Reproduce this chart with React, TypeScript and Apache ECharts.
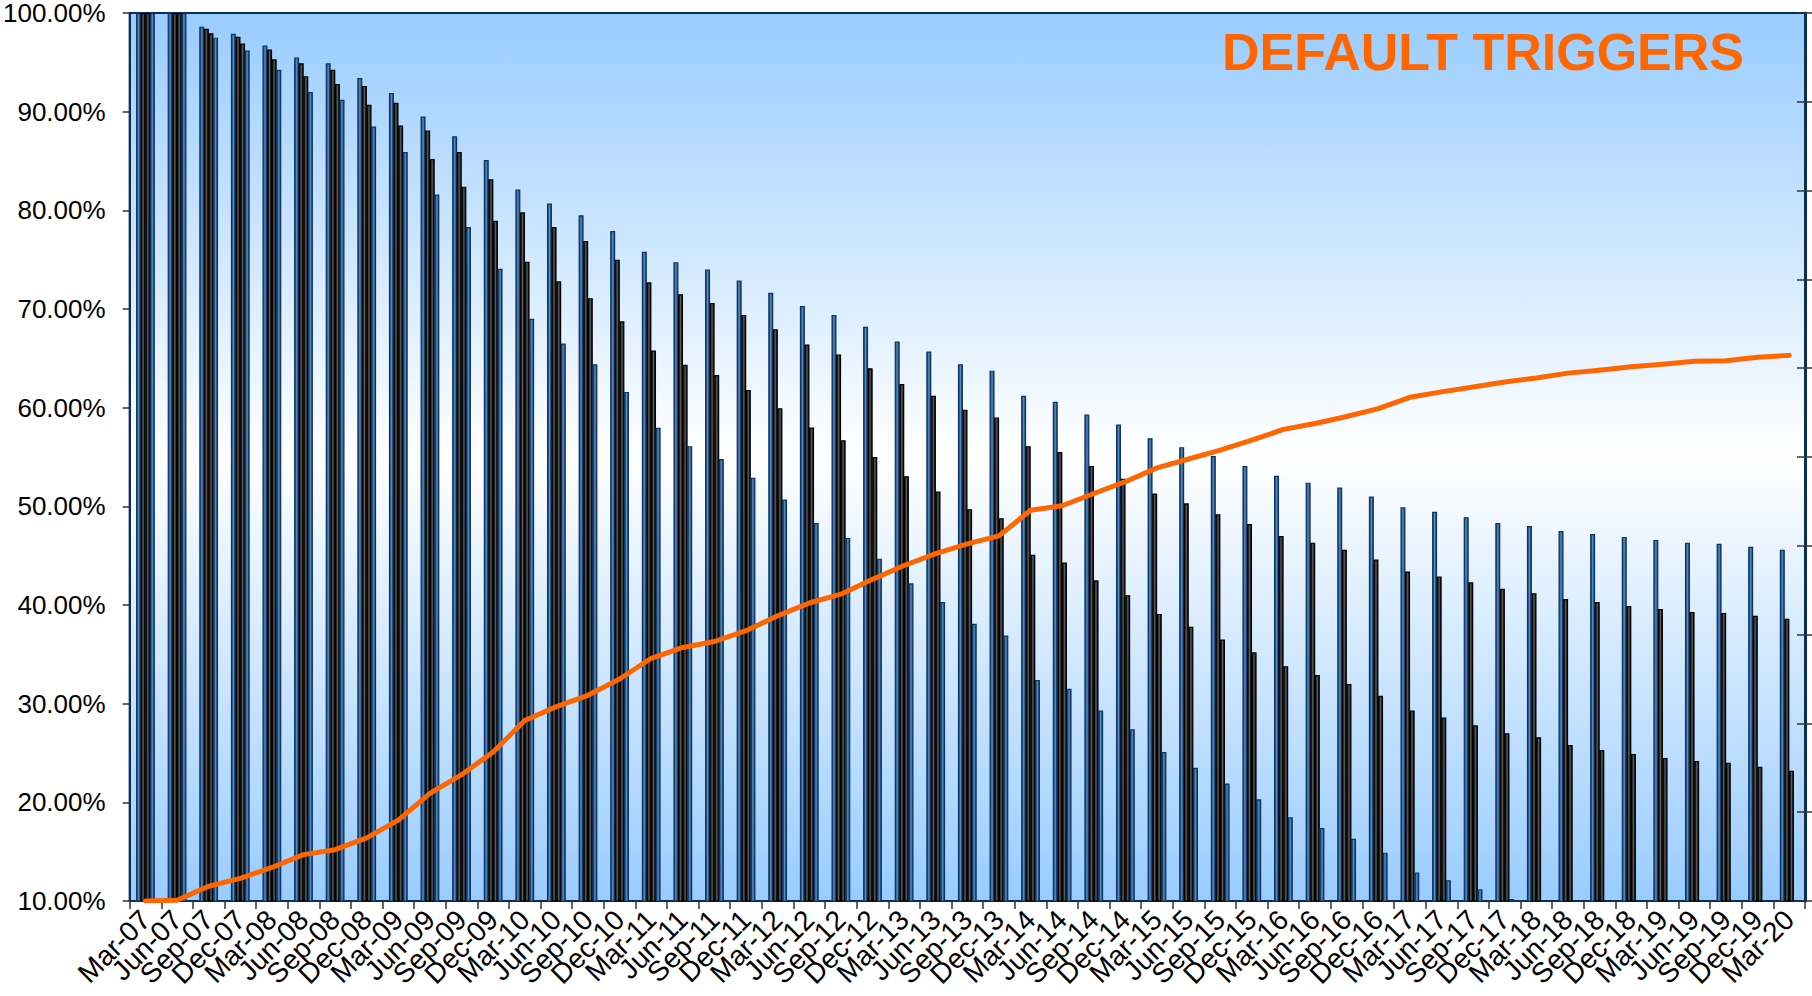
import React, { useEffect, useRef } from 'react';
import * as echarts from 'echarts';

const categories = [
  'Mar-07', 'Jun-07', 'Sep-07', 'Dec-07',
  'Mar-08', 'Jun-08', 'Sep-08', 'Dec-08',
  'Mar-09', 'Jun-09', 'Sep-09', 'Dec-09',
  'Mar-10', 'Jun-10', 'Sep-10', 'Dec-10',
  'Mar-11', 'Jun-11', 'Sep-11', 'Dec-11',
  'Mar-12', 'Jun-12', 'Sep-12', 'Dec-12',
  'Mar-13', 'Jun-13', 'Sep-13', 'Dec-13',
  'Mar-14', 'Jun-14', 'Sep-14', 'Dec-14',
  'Mar-15', 'Jun-15', 'Sep-15', 'Dec-15',
  'Mar-16', 'Jun-16', 'Sep-16', 'Dec-16',
  'Mar-17', 'Jun-17', 'Sep-17', 'Dec-17',
  'Mar-18', 'Jun-18', 'Sep-18', 'Dec-18',
  'Mar-19', 'Jun-19', 'Sep-19', 'Dec-19',
  'Mar-20',
];

const seriesA = [
  100, 100, 98.6, 97.9, 96.7, 95.5, 94.9, 93.4, 91.9, 89.5, 87.5, 85.1,
  82.1, 80.7, 79.5, 77.9, 75.8, 74.75, 74.0, 72.9, 71.65, 70.3, 69.4, 68.2,
  66.7, 65.7, 64.4, 63.75, 61.2, 60.6, 59.3, 58.3, 56.9, 56.0, 55.1, 54.1,
  53.1, 52.4, 51.9, 51.0, 49.9, 49.45, 48.9, 48.3, 48.0, 47.5, 47.2, 46.9,
  46.6, 46.3, 46.2, 45.9, 45.6,
];

const seriesB = [
  100, 100, 98.4, 97.6, 96.3, 94.9, 94.25, 92.6, 90.9, 88.1, 85.9, 83.15,
  79.8, 78.3, 76.9, 75.0, 72.7, 71.5, 70.6, 69.4, 67.95, 66.4, 65.4, 64.0,
  62.4, 61.2, 59.8, 59.0, 56.1, 55.5, 54.1, 52.8, 51.3, 50.3, 49.2, 48.2,
  47.0, 46.3, 45.6, 44.6, 43.4, 42.9, 42.3, 41.65, 41.2, 40.6, 40.3, 39.9,
  39.6, 39.3, 39.2, 38.9, 38.6,
];

const seriesC = [
  100, 100, 97.95, 96.9, 95.3, 93.6, 92.8, 90.7, 88.6, 85.2, 82.4, 78.95,
  74.8, 72.8, 71.1, 68.75, 65.8, 64.35, 63.3, 61.8, 59.95, 58.0, 56.7, 55.0,
  53.05, 51.5, 49.7, 48.8, 45.1, 44.3, 42.5, 41.0, 39.1, 37.8, 36.5, 35.2,
  33.8, 32.9, 32.0, 30.8, 29.3, 28.6, 27.8, 27.0, 26.6, 25.8, 25.3, 24.9,
  24.5, 24.2, 24.0, 23.6, 23.2,
];

const seriesD = [
  100, 100, 97.5, 96.2, 94.25, 92.0, 91.2, 88.5, 85.9, 81.6, 78.3, 74.07,
  69.0, 66.5, 64.4, 61.6, 57.96, 56.1, 54.8, 52.9, 50.7, 48.3, 46.8, 44.7,
  42.2, 40.3, 38.1, 36.9, 32.4, 31.5, 29.3, 27.4, 25.1, 23.5, 21.9, 20.3,
  18.5, 17.4, 16.3, 14.9, 12.9, 12.1, 11.2, 10.2, 10.1, 10.05, 10.05, 10.05,
  10.05, 10.05, 10.05, 10.05, 10.05,
];

const defaultTriggers = [
  10.0, 10.07, 11.5, 12.3, 13.4, 14.7, 15.2, 16.4, 18.2, 20.9, 22.8, 25.1,
  28.3, 29.7, 30.85, 32.5, 34.6, 35.7, 36.3, 37.4, 38.9, 40.2, 41.1, 42.6,
  44.0, 45.2, 46.2, 47.0, 49.6, 50.06, 51.3, 52.5, 53.9, 54.8, 55.7, 56.7,
  57.8, 58.4, 59.1, 59.9, 61.05, 61.6, 62.1, 62.6, 63.0, 63.5, 63.8, 64.15,
  64.4, 64.7, 64.75, 65.1, 65.3,
];

const yTicks = { min: 10, max: 100, interval: 10 };
const titleText = 'DEFAULT TRIGGERS';

const FONT = '"Liberation Sans", Arial, Helvetica, sans-serif';
const NAVY = '#0B2E57';

export default function App() {
  const ref = useRef<HTMLDivElement>(null);

  useEffect(() => {
    if (!ref.current) return;
    const chart = echarts.init(ref.current, null, { renderer: 'svg' });

    const blueFill = new echarts.graphic.LinearGradient(0, 0, 1, 0, [
      { offset: 0, color: '#0A3464' },
      { offset: 0.5, color: '#5C8CBE' },
      { offset: 1, color: '#0A3464' },
    ]);
    const blackFill = new echarts.graphic.LinearGradient(0, 0, 1, 0, [
      { offset: 0, color: '#000000' },
      { offset: 0.5, color: '#5A5A5A' },
      { offset: 1, color: '#000000' },
    ]);

    const barBase = {
      type: 'bar' as const,
      barWidth: 5,
      barGap: '-8%',
      yAxisIndex: 0,
      silent: true,
    };

    const option: any = {
      animation: false,
      grid: {
        left: 128,
        right: 7,
        top: 9,
        bottom: 95,
        containLabel: false,
        show: true,
        borderColor: NAVY,
        borderWidth: 2,
        backgroundColor: new echarts.graphic.LinearGradient(0, 0, 0, 1, [
          { offset: 0, color: '#99CCFF' },
          { offset: 0.5, color: '#FFFFFF' },
          { offset: 1, color: '#99CCFF' },
        ]),
      },
      xAxis: {
        type: 'category',
        data: categories,
        boundaryGap: true,
        axisLine: { show: true, lineStyle: { color: NAVY, width: 2 } },
        axisTick: { show: true, interval: 0, length: 8, lineStyle: { color: '#333', width: 1.5 } },
        axisLabel: {
          interval: 0,
          rotate: 45,
          margin: 14,
          fontSize: 28,
          fontFamily: FONT,
          color: '#000',
        },
        splitLine: { show: false },
      },
      yAxis: [
        {
          type: 'value',
          position: 'left',
          min: yTicks.min,
          max: yTicks.max,
          interval: yTicks.interval,
          axisLine: { show: true, lineStyle: { color: NAVY, width: 2 } },
          axisTick: { show: true, length: 7, lineStyle: { color: '#333', width: 1.5 } },
          axisLabel: {
            margin: 24,
            fontSize: 26,
            fontFamily: FONT,
            color: '#000',
            formatter: (v: number) => v.toFixed(2) + '%',
          },
          splitLine: { show: false },
        },
        {
          type: 'value',
          position: 'right',
          min: 0,
          max: 10,
          interval: 1,
          axisLine: { show: true, lineStyle: { color: NAVY, width: 3 } },
          axisTick: { show: true, inside: false, length: 7, lineStyle: { color: '#333', width: 1.5 } },
          axisLabel: { show: false },
          splitLine: { show: false },
        },
        {
          type: 'value',
          position: 'right',
          min: 0,
          max: 10,
          interval: 1,
          axisLine: { show: false },
          axisTick: { show: true, inside: true, length: 8, lineStyle: { color: '#333', width: 1.5 } },
          axisLabel: { show: false },
          splitLine: { show: false },
        },
      ],
      series: [
        { ...barBase, name: 'Series 1', data: seriesA, itemStyle: { color: blueFill, borderColor: '#0A3464', borderWidth: 1.2 } },
        { ...barBase, name: 'Series 2', data: seriesB, itemStyle: { color: blackFill, borderColor: '#000', borderWidth: 1.2 } },
        { ...barBase, name: 'Series 3', data: seriesC, itemStyle: { color: blackFill, borderColor: '#000', borderWidth: 1.2 } },
        { ...barBase, name: 'Series 4', data: seriesD, itemStyle: { color: blueFill, borderColor: '#0A3464', borderWidth: 1.2 } },
        {
          type: 'line',
          name: 'Default Triggers',
          data: defaultTriggers,
          yAxisIndex: 0,
          showSymbol: false,
          symbol: 'none',
          z: 10,
          lineStyle: { color: '#FF6600', width: 5, cap: 'round', join: 'round' },
          silent: true,
        },
      ],
      graphic: [
        {
          type: 'text',
          x: 1744,
          y: 52,
          z: 100,
          style: {
            text: titleText,
            fill: '#FF6600',
            font: `bold 52px ${FONT}`,
            align: 'right',
            verticalAlign: 'middle',
          },
        },
      ],
    };

    chart.setOption(option);
    return () => chart.dispose();
  }, []);

  return (
    <div
      ref={ref}
      style={{ position: 'absolute', left: 0, top: 0, width: 1812, height: 996 }}
    />
  );
}
